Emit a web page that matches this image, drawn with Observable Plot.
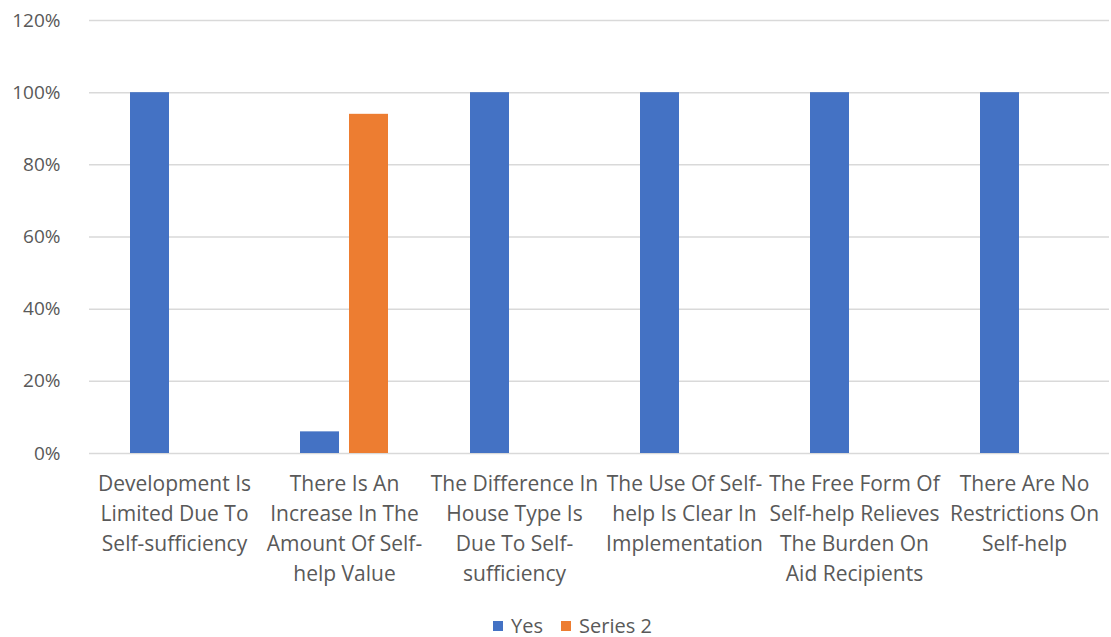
<!DOCTYPE html>
<html>
<head>
<meta charset="utf-8">
<script src="https://cdn.jsdelivr.net/npm/d3@7"></script>
<script src="https://cdn.jsdelivr.net/npm/@observablehq/plot@0.6"></script>
<style>
  html, body { margin: 0; padding: 0; background: #fff; }
  body { width: 1111px; height: 637px; overflow: hidden; font-family: "Open Sans", sans-serif; }
  #legend { display: flex; justify-content: center; align-items: center; gap: 18px; font-size: 20px; color: #595959; padding-left: 34px; margin-top: 12px; }
  #legend span.sw { display: inline-block; width: 10px; height: 10px; margin-right: 8px; }
  #legend .item { display: flex; align-items: center; }
</style>
</head>
<body>
<div id="chart"></div>
<div id="legend"></div>
<script>
const categories = [
  "Development Is\nLimited Due To\nSelf-sufficiency",
  "There Is An\nIncrease In The\nAmount Of Self-\nhelp Value",
  "The Difference In\nHouse Type Is\nDue To Self-\nsufficiency",
  "The Use Of Self-\nhelp Is Clear In\nImplementation",
  "The Free Form Of\nSelf-help Relieves\nThe Burden On\nAid Recipients",
  "There Are No\nRestrictions On\nSelf-help"
];
const seriesNames = ["Yes", "Series 2"];
const yesValues = [100, 6, 100, 100, 100, 100];
const series2Values = [null, 94, null, null, null, null];
const colors = ["#4472C4", "#ED7D31"];
const yTicks = [0, 20, 40, 60, 80, 100, 120];

const data = [];
categories.forEach((c, i) => {
  data.push({category: c, series: seriesNames[0], value: yesValues[i]});
  data.push({category: c, series: seriesNames[1], value: series2Values[i]});
});

const chart = Plot.plot({
  width: 1111,
  height: 600,
  marginLeft: 86,
  marginRight: 0,
  marginTop: 20,
  marginBottom: 147,
  style: {fontFamily: "Open Sans, sans-serif", color: "#595959", background: "#fff"},
  fx: {domain: categories, padding: 0, label: null},
  x: {domain: seriesNames, paddingInner: 0.2, paddingOuter: 0.8, axis: null},
  y: {domain: [0, 120], label: null},
  color: {domain: seriesNames, range: colors},
  marks: [
    Plot.ruleY(yTicks, {stroke: "#d9d9d9", strokeWidth: 1.5}),
    Plot.barY(data.filter(d => d.value != null), {fx: "category", x: "series", y: "value", fill: "series"}),
    Plot.axisY(yTicks, {tickSize: 0, tickPadding: 29, tickFormat: d => d + "%", fontSize: 19, fill: "#595959", label: null}),
    Plot.axisFx({anchor: "bottom", tickSize: 0, tickPadding: 16, fontSize: 21, lineHeight: 1.43, fill: "#595959", label: null, tickFormat: d => d})
  ]
});
document.getElementById("chart").appendChild(chart);

const legend = document.getElementById("legend");
seriesNames.forEach((s, i) => {
  const it = document.createElement("div");
  it.className = "item";
  it.innerHTML = `<span class="sw" style="background:${colors[i]}"></span>${s}`;
  legend.appendChild(it);
});
</script>
</body>
</html>
